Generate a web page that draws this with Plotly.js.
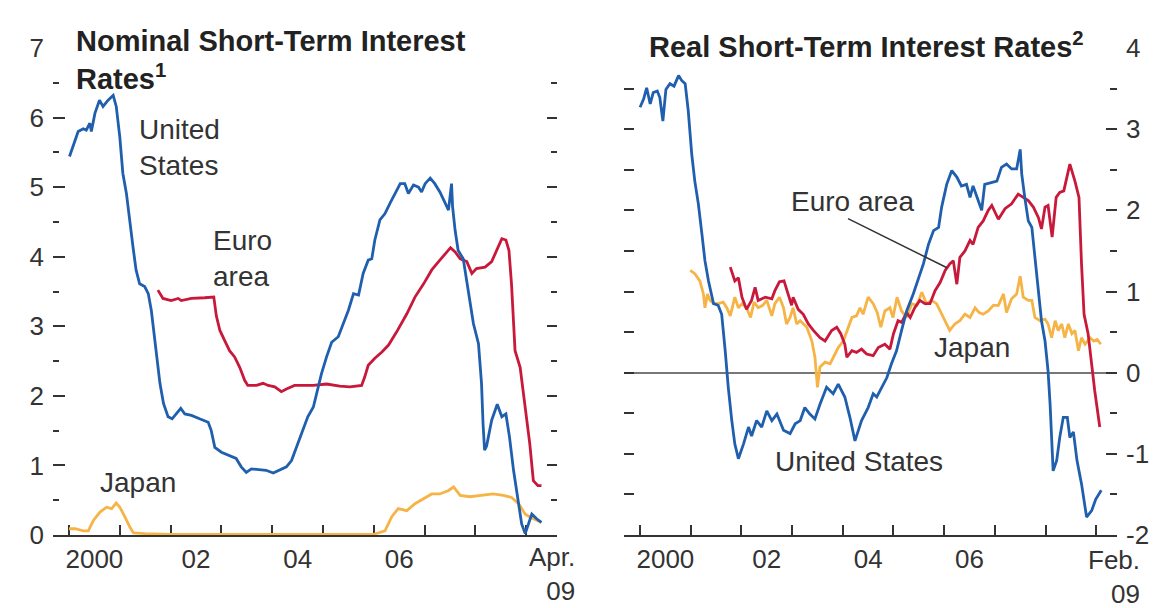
<!DOCTYPE html>
<html>
<head>
<meta charset="utf-8">
<script src="https://cdn.plot.ly/plotly-3.0.1.min.js"></script>
<style>html,body{margin:0;padding:0;background:#fff;}#chart{width:1157px;height:608px;}</style>
</head>
<body>
<div id="chart"></div>
<script>
// ---------- Left panel: Nominal short-term interest rates (percent) ----------
var usNomX = [2000.01,2000.08,2000.18,2000.28,2000.34,2000.41,2000.44,2000.51,2000.60,2000.67,
  2000.77,2000.87,2000.93,2001.00,2001.06,2001.13,2001.19,2001.26,2001.32,2001.39,
  2001.49,2001.56,2001.62,2001.65,2001.72,2001.79,2001.86,2001.95,2002.03,2002.11,
  2002.20,2002.28,2002.41,2002.57,2002.74,2002.80,2002.87,2003.00,2003.16,2003.29,
  2003.39,2003.49,2003.59,2003.72,2003.88,2004.02,2004.15,2004.28,2004.38,2004.48,
  2004.61,2004.70,2004.81,2004.91,2004.97,2005.07,2005.17,2005.30,2005.40,2005.50,
  2005.60,2005.70,2005.79,2005.89,2005.96,2006.02,2006.12,2006.22,2006.32,2006.42,
  2006.52,2006.61,2006.68,2006.78,2006.88,2006.94,2007.01,2007.11,2007.20,2007.30,
  2007.40,2007.47,2007.53,2007.55,2007.60,2007.66,2007.76,2007.86,2007.96,2008.06,
  2008.12,2008.15,2008.18,2008.22,2008.32,2008.43,2008.52,2008.60,2008.67,2008.75,
  2008.85,2008.91,2008.98,2009.04,2009.11,2009.21,2009.30];
var usNomY = [5.44,5.60,5.80,5.84,5.82,5.92,5.80,6.06,6.25,6.16,
  6.25,6.32,6.16,5.72,5.20,4.91,4.53,4.14,3.81,3.61,
  3.57,3.47,3.23,3.05,2.65,2.18,1.89,1.70,1.67,1.74,
  1.82,1.74,1.72,1.67,1.62,1.50,1.26,1.19,1.14,1.10,
  0.98,0.90,0.95,0.94,0.93,0.89,0.93,0.98,1.07,1.26,
  1.50,1.70,1.84,2.13,2.32,2.56,2.77,2.85,3.04,3.23,
  3.47,3.45,3.76,3.95,3.97,4.24,4.53,4.62,4.77,4.91,
  5.05,5.05,4.91,5.03,5.00,4.93,5.05,5.13,5.05,4.93,
  4.79,4.67,5.05,4.72,4.38,4.09,3.97,3.47,3.04,2.75,
  2.18,1.60,1.22,1.28,1.65,1.88,1.70,1.74,1.41,0.93,
  0.45,0.16,0.02,0.16,0.30,0.23,0.18];

var euNomX = [2001.75,2001.85,2002.01,2002.15,2002.21,2002.41,2002.67,2002.85,2002.90,2002.97,
  2003.06,2003.16,2003.26,2003.36,2003.46,2003.52,2003.69,2003.82,2003.92,2004.05,
  2004.18,2004.28,2004.44,2004.70,2004.81,2005.07,2005.33,2005.53,2005.76,2005.82,
  2005.89,2006.02,2006.16,2006.29,2006.45,2006.65,2006.81,2006.98,2007.14,2007.30,
  2007.44,2007.51,2007.60,2007.70,2007.83,2007.93,2008.02,2008.19,2008.32,2008.42,
  2008.52,2008.60,2008.66,2008.71,2008.78,2008.88,2008.98,2009.07,2009.14,2009.23,
  2009.30];
var euNomY = [3.52,3.40,3.37,3.40,3.37,3.40,3.41,3.42,3.15,2.94,
  2.80,2.65,2.56,2.41,2.22,2.15,2.15,2.18,2.15,2.13,
  2.06,2.10,2.15,2.15,2.15,2.17,2.14,2.13,2.15,2.27,
  2.44,2.54,2.63,2.73,2.92,3.18,3.42,3.61,3.81,3.95,
  4.07,4.13,4.07,3.97,3.93,3.76,3.83,3.85,3.93,4.09,
  4.26,4.24,4.09,3.61,2.65,2.41,1.84,1.31,0.78,0.71,
  0.71];

var jpNomX = [2000.00,2000.12,2000.28,2000.38,2000.48,2000.61,2000.74,2000.84,2000.93,2001.00,
  2001.10,2001.20,2001.27,2001.50,2002.0,2002.5,2003.0,2003.5,2004.0,2004.5,
  2005.0,2005.5,2006.0,2006.22,2006.35,2006.48,2006.65,2006.81,2006.98,2007.14,
  2007.30,2007.47,2007.57,2007.70,2007.89,2008.12,2008.35,2008.55,2008.71,2008.85,
  2008.98,2009.07,2009.17,2009.30];
var jpNomY = [0.09,0.09,0.06,0.06,0.21,0.33,0.40,0.38,0.46,0.40,
  0.26,0.11,0.03,0.02,0.01,0.01,0.02,0.01,0.01,0.01,
  0.01,0.01,0.01,0.06,0.26,0.38,0.35,0.45,0.52,0.59,
  0.59,0.64,0.69,0.57,0.55,0.57,0.59,0.57,0.54,0.45,
  0.30,0.26,0.23,0.18];

// ---------- Right panel: Real short-term interest rates (percent) ----------
var usRealX = [2000.00,2000.07,2000.13,2000.20,2000.26,2000.34,2000.39,2000.45,2000.51,2000.59,
  2000.67,2000.76,2000.82,2000.89,2000.95,2001.02,2001.08,2001.15,2001.22,2001.28,
  2001.35,2001.45,2001.54,2001.61,2001.68,2001.74,2001.81,2001.87,2001.94,2002.04,
  2002.14,2002.20,2002.30,2002.40,2002.50,2002.60,2002.70,2002.83,2002.96,2003.06,
  2003.16,2003.25,2003.35,2003.45,2003.55,2003.68,2003.81,2003.91,2004.04,2004.14,
  2004.24,2004.37,2004.50,2004.60,2004.67,2004.77,2004.87,2004.96,2005.06,2005.16,
  2005.26,2005.39,2005.49,2005.59,2005.69,2005.79,2005.89,2005.95,2006.05,2006.15,
  2006.25,2006.34,2006.44,2006.51,2006.57,2006.67,2006.74,2006.80,2006.90,2007.04,
  2007.13,2007.23,2007.33,2007.43,2007.50,2007.53,2007.59,2007.66,2007.73,2007.79,
  2007.86,2007.92,2007.99,2008.05,2008.09,2008.12,2008.15,2008.22,2008.28,2008.35,
  2008.43,2008.48,2008.55,2008.62,2008.71,2008.81,2008.91,2008.99,2009.10];
var usRealY = [3.27,3.37,3.51,3.31,3.45,3.47,3.39,3.10,3.49,3.56,
  3.53,3.66,3.60,3.56,3.23,2.69,2.36,2.08,1.71,1.38,
  1.13,0.85,0.83,0.72,0.27,-0.18,-0.59,-0.88,-1.06,-0.88,
  -0.67,-0.78,-0.59,-0.67,-0.47,-0.59,-0.51,-0.71,-0.75,-0.63,
  -0.59,-0.43,-0.51,-0.57,-0.39,-0.18,-0.26,-0.14,-0.30,-0.55,
  -0.84,-0.59,-0.43,-0.26,-0.30,-0.18,-0.06,0.11,0.27,0.52,
  0.76,0.97,1.17,1.34,1.58,1.75,1.79,2.04,2.32,2.49,
  2.41,2.30,2.32,2.16,2.30,2.12,2.00,2.32,2.34,2.36,
  2.53,2.57,2.51,2.51,2.75,2.45,2.16,1.87,1.79,1.42,
  1.01,0.64,0.39,0.02,-0.39,-0.80,-1.21,-1.08,-0.80,-0.55,
  -0.55,-0.80,-0.73,-1.08,-1.37,-1.78,-1.70,-1.56,-1.45];

var euRealX = [2001.78,2001.87,2001.94,2002.01,2002.10,2002.20,2002.27,2002.33,2002.47,2002.60,
  2002.66,2002.75,2002.84,2002.92,2002.99,2003.02,2003.12,2003.22,2003.32,2003.42,
  2003.55,2003.65,2003.78,2003.88,2003.96,2004.04,2004.08,2004.18,2004.27,2004.37,
  2004.47,2004.60,2004.70,2004.83,2004.93,2005.00,2005.09,2005.16,2005.26,2005.33,
  2005.42,2005.52,2005.62,2005.72,2005.82,2005.92,2006.02,2006.11,2006.18,2006.25,
  2006.31,2006.41,2006.51,2006.57,2006.67,2006.77,2006.87,2006.94,2007.07,2007.20,
  2007.33,2007.46,2007.56,2007.66,2007.76,2007.86,2007.92,2007.99,2008.05,2008.13,
  2008.21,2008.28,2008.36,2008.48,2008.58,2008.66,2008.71,2008.76,2008.84,2008.91,
  2008.97,2009.07];
var euRealY = [1.30,1.13,1.17,0.93,0.78,0.89,1.05,0.89,0.93,0.91,
  1.01,1.12,1.13,0.97,0.83,0.93,0.78,0.72,0.60,0.52,
  0.43,0.39,0.52,0.56,0.48,0.35,0.19,0.27,0.25,0.29,
  0.23,0.21,0.31,0.35,0.29,0.48,0.64,0.62,0.74,0.68,
  0.80,0.89,0.85,0.85,1.01,1.11,1.26,1.34,1.38,1.09,
  1.42,1.50,1.63,1.58,1.79,1.87,2.00,2.06,1.89,2.02,
  2.08,2.20,2.16,2.12,2.04,1.91,1.77,2.04,2.06,1.67,
  2.16,2.22,2.24,2.57,2.36,2.16,1.34,0.72,0.48,0.07,
  -0.22,-0.67];

var jpRealX = [2000.99,2001.08,2001.18,2001.25,2001.28,2001.33,2001.38,2001.46,2001.54,2001.64,
  2001.71,2001.78,2001.87,2001.94,2002.01,2002.10,2002.18,2002.25,2002.33,2002.42,
  2002.50,2002.60,2002.66,2002.75,2002.83,2002.89,2002.96,2003.02,2003.09,2003.16,
  2003.29,2003.39,2003.45,2003.50,2003.55,2003.65,2003.75,2003.85,2003.91,2004.01,
  2004.08,2004.18,2004.27,2004.34,2004.40,2004.50,2004.60,2004.68,2004.75,2004.83,
  2004.93,2004.99,2005.07,2005.16,2005.26,2005.36,2005.46,2005.56,2005.65,2005.75,
  2005.85,2005.95,2006.05,2006.11,2006.21,2006.31,2006.41,2006.51,2006.61,2006.69,
  2006.77,2006.87,2006.97,2007.07,2007.17,2007.23,2007.33,2007.43,2007.50,2007.56,
  2007.66,2007.73,2007.79,2007.89,2007.99,2008.05,2008.12,2008.19,2008.25,2008.32,
  2008.38,2008.45,2008.52,2008.58,2008.65,2008.71,2008.78,2008.88,2008.95,2009.02,
  2009.09];
var jpRealY = [1.26,1.22,1.13,0.97,0.80,0.97,0.89,0.85,0.85,0.87,
  0.80,0.70,0.93,0.80,0.85,0.80,0.68,0.87,0.80,0.83,
  0.89,0.70,0.85,0.93,0.80,0.60,0.68,0.80,0.60,0.64,
  0.56,0.39,0.19,-0.18,0.07,0.13,0.11,0.23,0.31,0.39,
  0.52,0.68,0.70,0.80,0.72,0.93,0.85,0.74,0.56,0.76,
  0.80,0.68,0.93,0.76,0.68,0.85,0.83,0.99,0.85,0.89,
  0.85,0.72,0.60,0.52,0.60,0.64,0.72,0.68,0.80,0.74,
  0.72,0.76,0.83,0.83,0.97,0.74,0.91,0.97,1.19,0.93,
  0.89,0.89,0.68,0.64,0.66,0.60,0.43,0.64,0.52,0.60,
  0.43,0.60,0.48,0.52,0.27,0.43,0.35,0.43,0.39,0.41,
  0.35];

// ---------- Axis ticks / labels ----------
var yearTicks = [2000,2001,2002,2003,2004,2005,2006,2007,2008,2009];
var xLabelPos = [2000.5,2002.5,2004.5,2006.5];
var xLabelText = ['2000','02','04','06'];
var leftYTicks = [0,1,2,3,4,5,6,7];
var rightYTicks = [-2,-1,0,1,2,3,4];
var rightYText = ['-2','-1','0','1','2','3','4'];

var C_US = '#1f5fae', C_EU = '#c8193b', C_JP = '#f6b446';
var INK = '#333333';
var FONT = 'Liberation Sans, Arial, Helvetica, sans-serif';
var LW = 2.8;

function line(x, y, color, xa, ya, name) {
  return {type:'scatter', mode:'lines', x:x, y:y, name:name, xaxis:xa, yaxis:ya,
    line:{color:color, width:LW}, cliponaxis:false, hoverinfo:'skip'};
}

var traces = [
  line(jpNomX, jpNomY, C_JP, 'x', 'y', 'Japan'),
  line(euNomX, euNomY, C_EU, 'x', 'y', 'Euro area'),
  line(usNomX, usNomY, C_US, 'x', 'y', 'United States'),
  line(jpRealX, jpRealY, C_JP, 'x2', 'y2', 'Japan'),
  line(euRealX, euRealY, C_EU, 'x2', 'y2', 'Euro area'),
  line(usRealX, usRealY, C_US, 'x2', 'y2', 'United States'),
  {type:'scatter', x:[], y:[], xaxis:'x3', yaxis:'y', showlegend:false},
  {type:'scatter', x:[], y:[], xaxis:'x', yaxis:'y3', showlegend:false},
  {type:'scatter', x:[], y:[], xaxis:'x4', yaxis:'y2', showlegend:false},
  {type:'scatter', x:[], y:[], xaxis:'x2', yaxis:'y4', showlegend:false}
];

var leftRange = [1999.685, 2009.606];
var rightRange = [1999.684, 2009.41];
var tickFont = {family:FONT, size:26, color:INK};

function xBase(domain, range, anchor) {
  return {domain:domain, range:range, anchor:anchor, tickmode:'array', tickvals:yearTicks,
    ticks:'inside', ticklen:10, tickwidth:2, tickcolor:INK, showticklabels:false,
    showline:true, linecolor:INK, linewidth:2, showgrid:false, zeroline:false,
    layer:'below traces', fixedrange:true};
}
function xLabels(over, range, anchor) {
  return {overlaying:over, range:range, anchor:anchor, tickmode:'array', tickvals:xLabelPos,
    ticktext:xLabelText, ticks:'', showline:false, showgrid:false, zeroline:false,
    tickfont:tickFont, ticklabelstandoff:6, fixedrange:true};
}
function minor(len) {
  return {dtick:0.5, ticks:'inside', ticklen:len, tickwidth:2, tickcolor:INK, showgrid:false};
}

var layout = {
  width:1157, height:608,
  margin:{l:53, r:40, t:48, b:73, pad:0},
  paper_bgcolor:'#ffffff', plot_bgcolor:'rgba(0,0,0,0)',
  showlegend:false,
  font:{family:FONT, size:26, color:INK},
  xaxis: xBase([0, 0.4737], leftRange, 'y'),
  xaxis2: xBase([0.5367, 1], rightRange, 'y2'),
  xaxis3: xLabels('x', leftRange, 'y'),
  xaxis4: xLabels('x2', rightRange, 'y2'),
  yaxis: {domain:[0,1], range:[0,7], anchor:'x', side:'left', tickmode:'array', tickvals:leftYTicks,
    ticks:'inside', ticklen:12, tickwidth:2, tickcolor:INK, minor:minor(6),
    showline:false, showgrid:false, zeroline:false, tickfont:tickFont, ticklabelstandoff:8, fixedrange:true},
  yaxis3: {overlaying:'y', anchor:'x', side:'right', range:[0,7], tickmode:'array', tickvals:leftYTicks,
    ticks:'inside', ticklen:10, tickwidth:2, tickcolor:INK, minor:minor(6),
    showticklabels:false, showline:false, showgrid:false, zeroline:false, fixedrange:true},
  yaxis2: {domain:[0,1], range:[-2,4], anchor:'x2', side:'right', tickmode:'array', tickvals:rightYTicks,
    ticktext:rightYText, ticks:'inside', ticklen:11, tickwidth:2, tickcolor:INK, minor:minor(7),
    showline:false, showgrid:false, zeroline:true, zerolinecolor:'#777777', zerolinewidth:2,
    tickfont:tickFont, ticklabelstandoff:8, fixedrange:true},
  yaxis4: {overlaying:'y2', anchor:'x2', side:'left', range:[-2,4], tickmode:'linear', tick0:-2, dtick:0.5,
    ticks:'inside', ticklen:10, tickwidth:2, tickcolor:INK,
    showticklabels:false, showline:false, showgrid:false, zeroline:false, fixedrange:true},
  annotations: [
    {xref:'paper', yref:'paper', x:0.0197, y:0.9754, xanchor:'left', yanchor:'middle', align:'left',
     text:'Nominal Short-Term Interest<br>Rates<sup>1</sup>', showarrow:false,
     font:{family:FONT, size:29, color:'#222', weight:'bold'}},
    {xref:'paper', yref:'paper', x:0.5583, y:1.0062, xanchor:'left', yanchor:'middle', align:'left',
     text:'Real Short-Term Interest Rates<sup>2</sup>', showarrow:false,
     font:{family:FONT, size:29, color:'#222', weight:'bold'}},
    {xref:'x', yref:'y', x:2001.34, y:5.576, xanchor:'left', yanchor:'middle', align:'left',
     text:'United<br>States', showarrow:false, font:{family:FONT, size:28, color:INK}},
    {xref:'x', yref:'y', x:2002.795, y:3.97, xanchor:'left', yanchor:'middle', align:'left',
     text:'Euro<br>area', showarrow:false, font:{family:FONT, size:28, color:INK}},
    {xref:'x', yref:'y', x:2000.571, y:0.748, xanchor:'left', yanchor:'middle', align:'left',
     text:'Japan', showarrow:false, font:{family:FONT, size:28, color:INK}},
    {xref:'x2', yref:'y2', x:2002.939, y:2.106, xanchor:'left', yanchor:'middle', align:'left',
     text:'Euro area', showarrow:false, font:{family:FONT, size:28, color:INK}},
    {xref:'x2', yref:'y2', x:2005.759, y:0.314, xanchor:'left', yanchor:'middle', align:'left',
     text:'Japan', showarrow:false, font:{family:FONT, size:28, color:INK}},
    {xref:'x2', yref:'y2', x:2002.623, y:-1.096, xanchor:'left', yanchor:'middle', align:'left',
     text:'United States', showarrow:false, font:{family:FONT, size:28, color:INK}},
    {xref:'paper', yref:'paper', x:0.4925, y:-0.0103, xanchor:'right', yanchor:'top', align:'right',
     text:'Apr.<br>09', showarrow:false, font:tickFont},
    {xref:'paper', yref:'paper', x:1.0235, y:-0.016, xanchor:'right', yanchor:'top', align:'right',
     text:'Feb.<br>09', showarrow:false, font:tickFont}
  ],
  shapes: [
    {type:'line', xref:'x2', yref:'y2', x0:2004.103, y0:1.897, x1:2006.055, y1:1.293,
     line:{color:INK, width:1.5}}
  ]
};

Plotly.newPlot('chart', traces, layout, {staticPlot:true, displayModeBar:false});
</script>
</body>
</html>
